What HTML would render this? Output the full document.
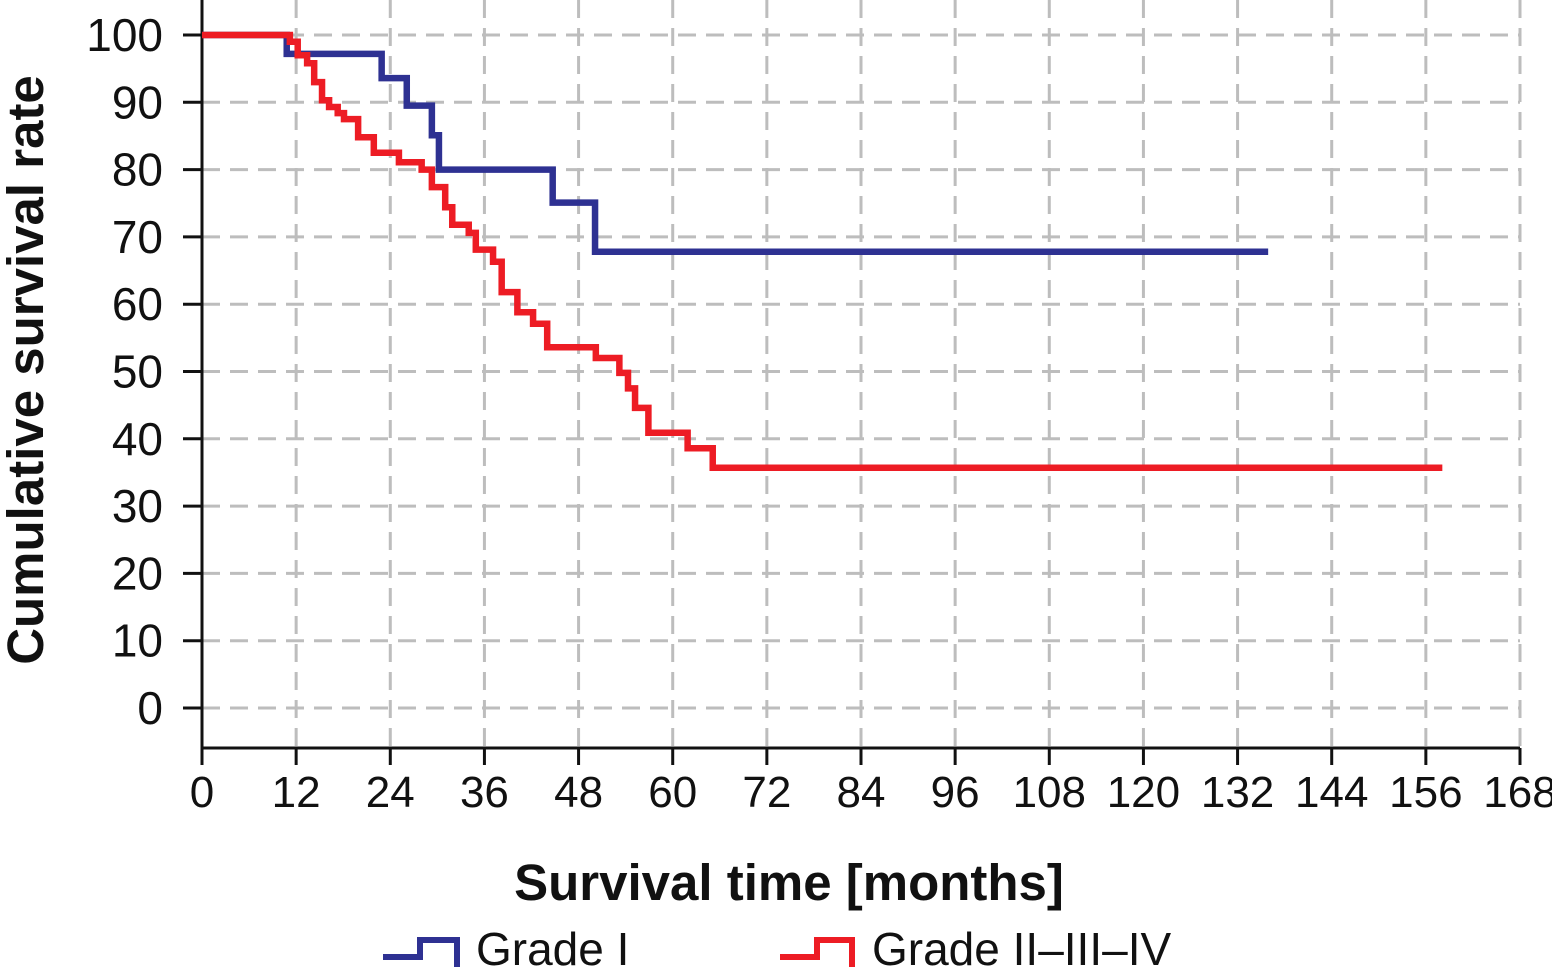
<!DOCTYPE html>
<html><head><meta charset="utf-8"><style>
html,body{margin:0;padding:0;background:#fff;}
svg{display:block;font-family:"Liberation Sans","DejaVu Sans",sans-serif;}
</style></head><body>
<svg id="chart" width="1552" height="967" viewBox="0 0 1552 967" xmlns="http://www.w3.org/2000/svg">
<g id="grid"></g>
<g id="axes"></g>
<g id="series"></g>
<text x="0" y="0" transform="translate(43,370) rotate(-90)" text-anchor="middle" font-size="51" font-weight="bold" fill="#111">Cumulative survival rate</text>
<text x="789" y="900" text-anchor="middle" font-size="51" font-weight="bold" fill="#111">Survival time [months]</text>
<g>
<g>
<path d="M383,957 H420 V940 H457 V967" fill="none" stroke="#2e3192" stroke-width="6"/>
<text x="476" y="965" font-size="46" fill="#111">Grade I</text>
</g>
<g>
<path d="M780,957 H817 V940 H852 V967" fill="none" stroke="#ed1c24" stroke-width="6"/>
<text x="872" y="965" font-size="46" fill="#111">Grade II–III–IV</text>
</g>
</g>
</svg>
<script>
const xTicks = [0,12,24,36,48,60,72,84,96,108,120,132,144,156,168];
const yTicks = [0,10,20,30,40,50,60,70,80,90,100];
const blueTimes = [0,10.8,22.9,26.1,29.3,30.2,44.7,50.1,135.9];
const blueValues = [100,97.2,93.6,89.5,85.1,80,75.1,67.8,67.8];
const redTimes = [0,11.2,12.2,13.4,14.3,15.3,16.2,17.3,18.1,19.9,21.9,25.1,28.0,29.3,31.0,31.9,34.0,34.9,37.1,38.2,40.2,42.2,44.0,50.2,53.2,54.3,55.2,56.9,61.9,65.1,158.1];
const redValues = [100,99,97,95.8,93,90.3,89.3,88.4,87.5,84.8,82.5,81.1,80,77.4,74.4,71.8,70.6,68.1,66.3,61.8,58.8,57.1,53.6,52,49.8,47.5,44.6,40.9,38.6,35.7,35.7];

const NS = "http://www.w3.org/2000/svg";
const X0 = 202, X1 = 1520, Y0 = 708, Y100 = 35, AXY = 748;
function sx(m){ return X0 + (m/168)*(X1-X0); }
function sy(v){ return Y0 + (v/100)*(Y100-Y0); }
function mk(tag, attrs, parent){
  const e = document.createElementNS(NS, tag);
  for (const k in attrs) e.setAttribute(k, attrs[k]);
  parent.appendChild(e); return e;
}
const grid = document.getElementById('grid');
const axes = document.getElementById('axes');
const series = document.getElementById('series');

xTicks.forEach(t => {
  if (t > 0) {
    const g = mk('line', {x1:sx(t), x2:sx(t), y1:0, y2:AXY, stroke:'#bdbdbd', 'stroke-width':3, 'stroke-dasharray':'18,10'}, grid);
    
    
  }
  const tk = mk('line', {x1:sx(t), x2:sx(t), y1:AXY, y2:765, stroke:'#111', 'stroke-width':3}, axes);
  
  
  const lb = mk('text', {x:sx(t), y:807, 'text-anchor':'middle', 'font-size':44, fill:'#111'}, axes);
  lb.textContent = t;
  
  
});
yTicks.forEach(t => {
  const g = mk('line', {x1:X0, x2:X1, y1:sy(t), y2:sy(t), stroke:'#bdbdbd', 'stroke-width':3, 'stroke-dasharray':'18,10'}, grid);
  
  
  const tk = mk('line', {x1:183, x2:X0, y1:sy(t), y2:sy(t), stroke:'#111', 'stroke-width':3}, axes);
  
  
  const lb = mk('text', {x:163, y:sy(t)+16, 'text-anchor':'end', 'font-size':46, fill:'#111'}, axes);
  lb.textContent = t;
  
  
});
const ya = mk('line', {x1:X0, x2:X0, y1:0, y2:AXY+1, stroke:'#111', 'stroke-width':3}, axes);


const xa = mk('line', {x1:X0, x2:X1, y1:AXY, y2:AXY, stroke:'#111', 'stroke-width':3}, axes);



function stepPath(ts, vs){
  let d = 'M' + sx(ts[0]) + ',' + sy(vs[0]);
  for (let i = 1; i < ts.length; i++){
    d += ' H' + sx(ts[i]) + ' V' + sy(vs[i]);
  }
  return d;
}
const pb = mk('path', {d:stepPath(blueTimes, blueValues), fill:'none', stroke:'#2e3192', 'stroke-width':6.5}, series);


const pr = mk('path', {d:stepPath(redTimes, redValues), fill:'none', stroke:'#ed1c24', 'stroke-width':6.5}, series);


</script>
</body></html>
